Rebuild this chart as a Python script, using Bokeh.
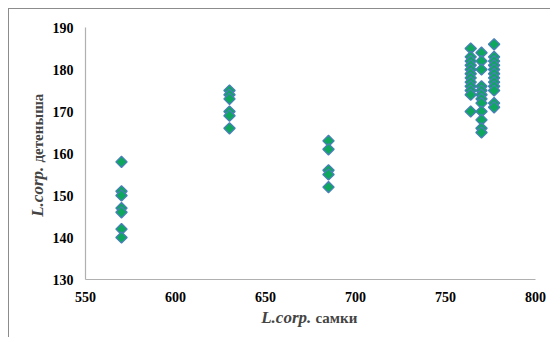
import math
from bokeh.plotting import figure
from bokeh.models import Range1d, FixedTicker, Label, ColumnDataSource
from bokeh.embed import file_html
from bokeh.resources import INLINE

# Data: female body length (x) and offspring body length (y)
female_len = [570, 570, 570, 570, 570, 570, 570,
              630, 630, 630, 630, 630, 630,
              685, 685, 685, 685, 685,
              764, 764, 764, 764, 764, 764, 764, 764, 764, 764, 764, 764,
              770, 770, 770, 770, 770, 770, 770, 770, 770, 770, 770, 770,
              777, 777, 777, 777, 777, 777, 777, 777, 777, 777, 777, 777]
young_len = [158, 151, 150, 147, 146, 142, 140,
             175, 174, 173, 170, 169, 166,
             163, 161, 156, 155, 152,
             185, 183, 182, 181, 180, 179, 178, 177, 176, 175, 174, 170,
             184, 182, 180, 176, 175, 174, 173, 172, 170, 168, 166, 165,
             186, 183, 182, 181, 180, 179, 178, 177, 176, 175, 172, 171]

x_ticks = [550, 600, 650, 700, 750, 800]
y_ticks = [130, 140, 150, 160, 170, 180, 190]

FONT = "Liberation Serif"

# Layout (pixels): canvas size and where the data box sits inside it
W, H = 542, 329
PAD_L, PAD_R, PAD_T, PAD_B = 76, 16, 18, 59
x0, x1 = x_ticks[0], x_ticks[-1]
y0, y1 = y_ticks[0], y_ticks[-1]
sx = (W - PAD_L - PAD_R) / (x1 - x0)
sy = (H - PAD_T - PAD_B) / (y1 - y0)

p = figure(width=W, height=H, output_backend="svg", toolbar_location=None,
           x_range=Range1d(x0 - PAD_L / sx, x1 + PAD_R / sx),
           y_range=Range1d(y0 - PAD_B / sy, y1 + PAD_T / sy),
           min_border=0, min_border_left=0, min_border_right=0,
           min_border_top=0, min_border_bottom=0)
p.styles = {"margin-left": "8px", "margin-top": "8px",
            "border-left": "1px solid #8c8c8c", "border-top": "1px solid #8c8c8c"}
p.outline_line_color = None
p.xgrid.grid_line_color = None
p.ygrid.grid_line_color = None
p.background_fill_color = "white"
p.border_fill_color = "white"

p.xaxis[0].fixed_location = y0
p.yaxis[0].fixed_location = x0
p.xaxis[0].bounds = (x0, x1)
p.yaxis[0].bounds = (y0, y1)

for ax in (p.xaxis[0], p.yaxis[0]):
    ax.axis_line_color = "#b0b0b0"
    ax.axis_line_width = 1.2
    ax.major_tick_line_color = None
    ax.minor_tick_line_color = None
    ax.major_tick_out = 0
    ax.major_tick_in = 0
    ax.minor_tick_out = 0
    ax.minor_tick_in = 0
    ax.major_label_text_font = FONT
    ax.major_label_text_font_style = "bold"
    ax.major_label_text_font_size = "14px"
    ax.major_label_text_color = "black"
    ax.major_label_standoff = 12
p.xaxis[0].ticker = FixedTicker(ticks=x_ticks)
p.yaxis[0].ticker = FixedTicker(ticks=y_ticks)

src = ColumnDataSource(data=dict(x=female_len, y=young_len))
p.scatter("x", "y", source=src, marker="square", size=8, angle=math.pi / 4,
          fill_color="#0fa65e", line_color="#4a7ebb", line_width=1.3)

# X axis label (mixed styles)
p.add_layout(Label(x=305, y=307, x_units="canvas", y_units="canvas", text="L.corp. ",
                   text_font=FONT, text_font_style="bold italic", text_font_size="17px",
                   text_align="right", text_baseline="alphabetic"))
p.add_layout(Label(x=305, y=307, x_units="canvas", y_units="canvas", text="самки",
                   text_font=FONT, text_font_style="bold", text_font_size="15px",
                   text_align="left", text_baseline="alphabetic"))
# Y axis label (mixed styles)
p.add_layout(Label(x=27, y=152, x_units="canvas", y_units="canvas", text="L.corp. ",
                   text_font=FONT, text_font_style="bold italic", text_font_size="17px",
                   text_align="right", text_baseline="middle", angle=math.pi / 2))
p.add_layout(Label(x=27, y=152, x_units="canvas", y_units="canvas", text="детеныша",
                   text_font=FONT, text_font_style="bold", text_font_size="15px",
                   text_align="left", text_baseline="middle", angle=math.pi / 2))

open("out.html", "w").write(file_html(p, INLINE))
